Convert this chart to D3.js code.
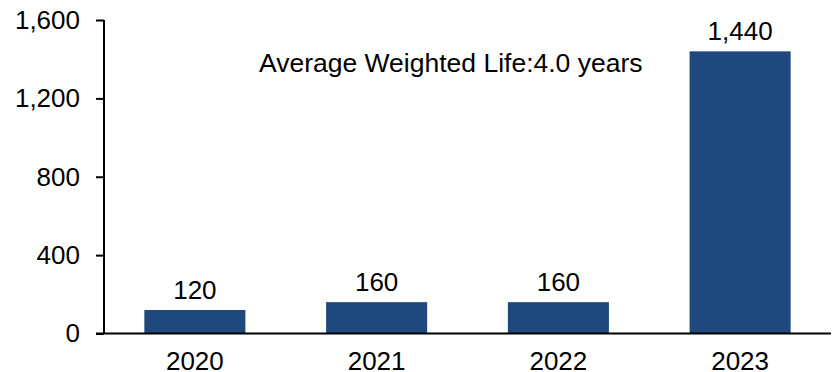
<!DOCTYPE html>
<html>
<head>
<meta charset="utf-8">
<script src="https://cdn.jsdelivr.net/npm/d3@7"></script>
<style>
  html, body { margin: 0; padding: 0; background: #fff; }
  svg { display: block; font-family: "Liberation Sans", Arial, sans-serif; }
</style>
</head>
<body>
<svg id="chart" width="839" height="372"></svg>
<script>
// Annual amounts by year
const categories = ["2020", "2021", "2022", "2023"];
const values = [120, 160, 160, 1440];
const yTicks = [0, 400, 800, 1200, 1600];
const note = "Average Weighted Life:4.0 years";

const svg = d3.select("#chart");
const margin = { left: 104, right: 8, top: 20, bottom: 38.5 };
const width = 839, height = 372;

const x = d3.scaleBand()
  .domain(categories)
  .range([margin.left, width - margin.right])
  .paddingInner(0.444)
  .paddingOuter(0.222);

const y = d3.scaleLinear()
  .domain([0, 1600])
  .range([height - margin.bottom, margin.top]);

const fmt = d3.format(",");
const fontSize = 26;

// Bars
svg.append("g")
  .selectAll("rect")
  .data(values)
  .join("rect")
  .attr("x", (d, i) => x(categories[i]))
  .attr("width", x.bandwidth())
  .attr("y", d => y(d))
  .attr("height", d => y(0) - y(d))
  .attr("fill", "#1F497D");

// Value labels
svg.append("g")
  .selectAll("text")
  .data(values)
  .join("text")
  .attr("x", (d, i) => x(categories[i]) + x.bandwidth() / 2)
  .attr("y", d => y(d) - 11)
  .attr("text-anchor", "middle")
  .attr("font-size", fontSize)
  .attr("fill", "#000")
  .text(d => fmt(d));

// Y axis
const yAxis = svg.append("g")
  .attr("transform", `translate(${margin.left},0)`)
  .call(d3.axisLeft(y).tickValues(yTicks).tickFormat(fmt).tickSize(8).tickPadding(16));
yAxis.selectAll("path, line").attr("stroke", "#000").attr("stroke-width", 2);
yAxis.select(".domain").attr("d", `M0,${y(0)}V${y(1600)}`);
yAxis.selectAll("text").attr("font-size", fontSize).attr("fill", "#000").attr("font-family", null);

// X axis
const xAxis = svg.append("g")
  .attr("transform", `translate(0,${y(0)})`)
  .call(d3.axisBottom(x).tickSize(0).tickPadding(18));
xAxis.select(".domain").attr("d", `M${margin.left - 8},0H${width - margin.right}`)
  .attr("stroke", "#000").attr("stroke-width", 2);
xAxis.selectAll("text").attr("font-size", fontSize).attr("fill", "#000").attr("font-family", null);

// Annotation
svg.append("text")
  .attr("x", 259)
  .attr("y", 72)
  .attr("font-size", 26.5)
  .attr("fill", "#000")
  .text(note);
</script>
</body>
</html>
